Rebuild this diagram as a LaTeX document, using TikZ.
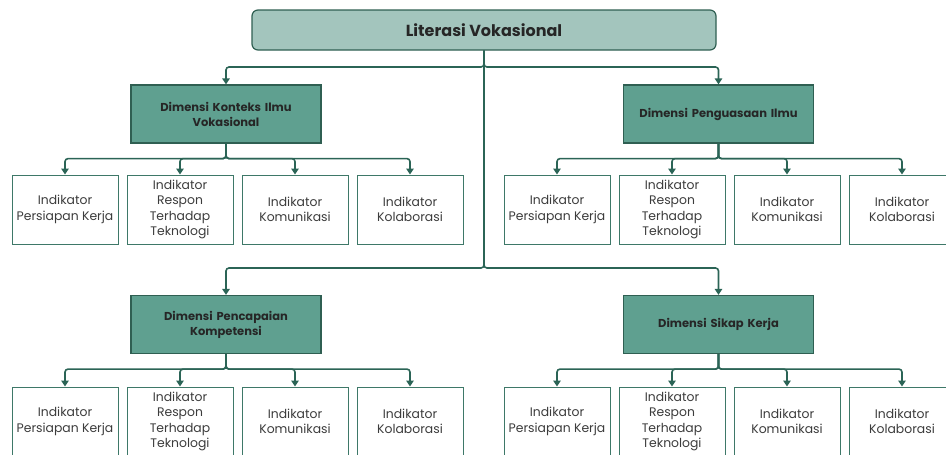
\documentclass[tikz,border=0pt]{standalone}
\usepackage{fontspec}
\setmainfont{Poppins}
\usetikzlibrary{positioning, arrows.meta}

\definecolor{darkteal}{HTML}{2B6456}
\definecolor{edgeteal}{HTML}{2F5F52}
\definecolor{midteal}{HTML}{5FA090}
\definecolor{paleteal}{HTML}{A3C5BD}
\definecolor{boxedge}{HTML}{3E7868}
\definecolor{inkdark}{HTML}{262626}

\begin{document}
\begin{tikzpicture}[x=1pt, y=-1pt]
        \tikzstyle{rootbox} = [rectangle, rounded corners=6pt, minimum width=464pt, minimum height=40pt, draw=edgeteal, fill=paleteal, line width=1.2pt, text=inkdark, font=\bfseries\fontsize{16}{19}\selectfont]
        \tikzstyle{dimbox} = [rectangle, minimum width=190pt, minimum height=58pt, text width=180pt, align=center, draw=edgeteal, fill=midteal, line width=1.2pt, text=inkdark, font=\bfseries\fontsize{11.5}{15}\selectfont]
        \tikzstyle{indbox} = [rectangle, minimum width=106pt, minimum height=69pt, inner sep=1pt, align=center, draw=boxedge, fill=white, line width=1pt, text=inkdark!90, font=\fontsize{12.4}{15.5}\selectfont]
        \tikzstyle{arrow} = [line width=1.6pt, draw=darkteal, rounded corners=3pt, -{Triangle[length=6pt,width=7.5pt]}]

        \useasboundingbox (0,0) rectangle (946,455);
        \clip (0,0) rectangle (946,455);

        \node (lit) [rootbox] at (484,30) {Literasi Vokasional};
        \node (konteks) [dimbox] at (226,114) {Dimensi Konteks Ilmu\\Vokasional};
        \node (penguasaan) [dimbox] at (718.5,114) {Dimensi Penguasaan Ilmu};
        \node (pencapaian) [dimbox] at (226,324.5) {Dimensi Pencapaian\\Kompetensi};
        \node (sikap) [dimbox] at (718.5,324.5) {Dimensi Sikap Kerja};

        \coordinate (upper) at (484,67);
        \coordinate (lower) at (484,268);

        \draw [arrow] (lit.south) -- (upper) -| (konteks.north);
        \draw [arrow] (lit.south) -- (upper) -| (penguasaan.north);
        \draw [arrow] (lit.south) -- (lower) -| (pencapaian.north);
        \draw [arrow] (lit.south) -- (lower) -| (sikap.north);

        % four indicators under every dimension
        \foreach \dim/\x/\y in {konteks/65/209.5, penguasaan/557/209.5, pencapaian/65/421.5, sikap/557/421.5} {
            \node (\dim-a) [indbox] at (\x,\y) {Indikator\\Persiapan Kerja};
            \node (\dim-b) [indbox, right=8pt of \dim-a] {Indikator\\Respon\\Terhadap\\Teknologi};
            \node (\dim-c) [indbox, right=8pt of \dim-b] {Indikator\\Komunikasi};
            \node (\dim-d) [indbox, right=8pt of \dim-c] {Indikator\\Kolaborasi};
            \coordinate [below=15pt of \dim.south] (\dim-bus);
            \foreach \k in {a,b,c,d}
                \draw [arrow] (\dim.south) -- (\dim-bus) -| (\dim-\k.north);
        }
    \end{tikzpicture}
\end{document}
